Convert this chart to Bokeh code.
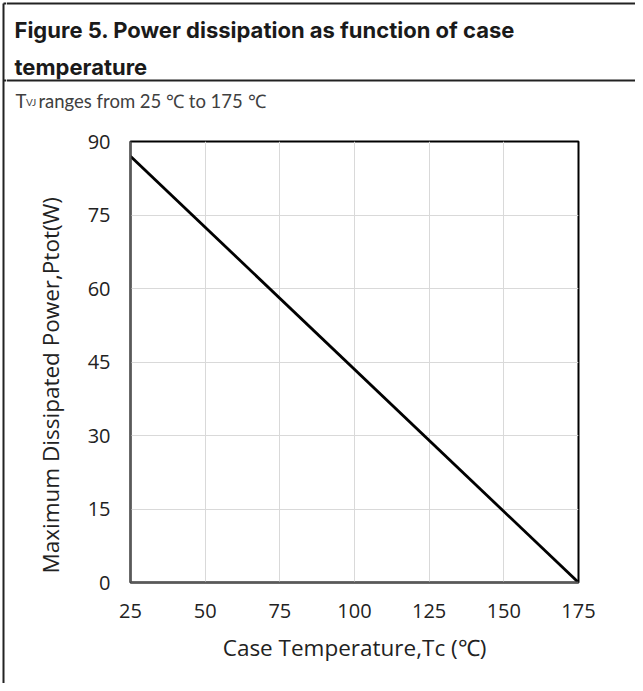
from bokeh.plotting import figure
from bokeh.models import Range1d, FixedTicker, Title
from bokeh.layouts import column, row
from bokeh.core.properties import value
from bokeh.embed import file_html
from bokeh.resources import INLINE

# ---- data ----
case_temp = [25, 175]
power = [87, 0]
x_ticks = [25, 50, 75, 100, 125, 150, 175]
y_ticks = [0, 15, 30, 45, 60, 75, 90]

title_line1 = "Figure 5. Power dissipation as function of case"
title_line2 = "temperature"
sub_pre = "T"
sub_idx = "VJ"
sub_post = "ranges from 25 ℃ to 175 ℃"
x_label = "Case Temperature,Tc (℃)"
y_label = "Maximum Dissipated Power,Ptot(W)"

W, H = 635, 683
HEAD_H = 121
STRIP_W = 6
BODY_H = H - HEAD_H
CHART_W = W - STRIP_W
LINE_C = "#222222"


def bare(width, height, xr, yr):
    f = figure(width=width, height=height, output_backend="svg", toolbar_location=None,
               x_range=xr, y_range=yr, min_border=0, min_border_left=0,
               min_border_right=0, min_border_top=0, min_border_bottom=0)
    f.axis.visible = False
    f.grid.visible = False
    f.outline_line_color = None
    return f


# ---- left table border strip (full height) ----
strip = bare(STRIP_W, H, Range1d(0, STRIP_W), Range1d(H, 0))
strip.segment(x0=[3, 3, 3], y0=[3, 3, 80], x1=[3, STRIP_W, STRIP_W], y1=[H, 3, 80],
              line_color=LINE_C, line_width=2)

# ---- header (page-pixel coordinates, y downwards) ----
head = bare(CHART_W, HEAD_H, Range1d(STRIP_W, W), Range1d(HEAD_H, 0))
head.segment(x0=[STRIP_W, STRIP_W], y0=[3, 80], x1=[W, W], y1=[3, 80],
             line_color=LINE_C, line_width=2)
for txt, yb in ((title_line1, 29), (title_line2, 66)):
    head.text(x=[14], y=[yb], text=[txt], text_font=value("Inter"),
              text_font_style="bold", text_font_size="22px", text_color="#1a1a1a",
              text_baseline="alphabetic")
head.text(x=[15], y=[100], text=[sub_pre], text_font=value("Lato"),
          text_font_size="18.5px", text_color="#404040", text_baseline="alphabetic")
head.text(x=[25.5], y=[101], text=[sub_idx], text_font=value("Lato"),
          text_font_size="10px", text_color="#404040", text_baseline="alphabetic")
head.text(x=[38], y=[100], text=[sub_post], text_font=value("Lato"),
          text_font_size="18.5px", text_color="#404040", text_baseline="alphabetic")

# ---- chart ----
FL, FT, FR, FB = 130 - STRIP_W, 141 - HEAD_H, 578 - STRIP_W, 582 - HEAD_H
p = figure(width=CHART_W, height=BODY_H, output_backend="svg", toolbar_location=None,
           x_range=Range1d(25, 175), y_range=Range1d(0, 90),
           min_border_left=FL, min_border_top=FT,
           min_border_right=CHART_W - FR, min_border_bottom=BODY_H - FB)

p.line(case_temp, power, line_color="black", line_width=2.8)

p.outline_line_color = "black"
p.outline_line_width = 2
p.grid.grid_line_color = "#d9d9d9"
p.grid.grid_line_width = 1
p.xaxis.ticker = FixedTicker(ticks=x_ticks)
p.yaxis.ticker = FixedTicker(ticks=y_ticks)
for ax in (p.xaxis, p.yaxis):
    ax.major_tick_line_color = None
    ax.minor_tick_line_color = None
    ax.axis_line_color = "#595959"
    ax.axis_line_width = 2
    ax.major_label_text_font = "Open Sans"
    ax.major_label_text_font_size = "20px"
    ax.major_label_text_color = "#222222"
    ax.axis_label_text_font = "Open Sans"
    ax.axis_label_text_font_size = "22.5px"
    ax.axis_label_text_font_style = "normal"
    ax.axis_label_text_color = "#222222"
p.xaxis.axis_label = x_label
p.xaxis.major_label_standoff = 15
p.xaxis.axis_label_standoff = 11
p.yaxis.major_label_standoff = 14

# y-axis title, placed along the left side as in the reference
p.add_layout(Title(text=y_label, align="left", offset=9, standoff=38,
                   text_font="Open Sans", text_font_size="22.5px",
                   text_font_style="normal", text_color="#222222"), "left")

layout = row(strip, column(head, row(p, spacing=0), spacing=0), spacing=0)

open("out.html", "w").write(file_html(layout, INLINE))
